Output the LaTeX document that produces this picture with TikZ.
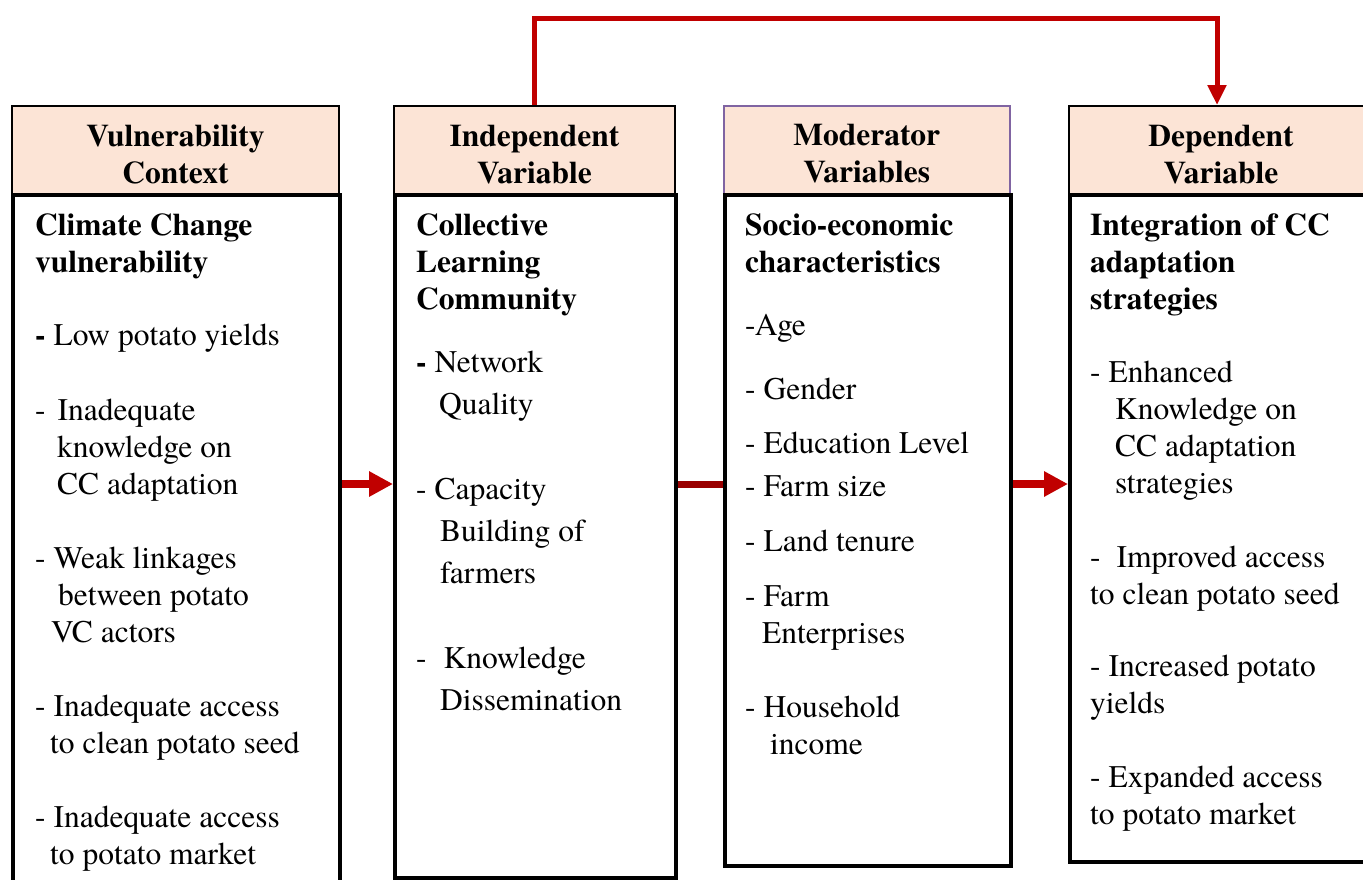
\documentclass[tikz,border=0pt]{standalone}
\usepackage{fontspec}
\setmainfont{texgyretermes}[Extension=.otf, UprightFont=*-regular, BoldFont=*-bold, ItalicFont=*-italic, BoldItalicFont=*-bolditalic]
\usetikzlibrary{arrows.meta}
\definecolor{hdrfill}{HTML}{FCE4D6}
\definecolor{arrred}{HTML}{C00000}
\definecolor{linkred}{HTML}{9A0000}
\definecolor{modpurple}{HTML}{8064A2}
\newcommand{\fsz}{\fontsize{31.5}{37}\selectfont}
\newcommand{\fszw}{\fontsize{31.5}{42}\selectfont}
\newcommand{\stt}{\rule{0pt}{30pt}}
\begin{document}
\begin{tikzpicture}[x=1pt,y=-1pt,
  hdr/.style={draw=black, line width=2pt, fill=hdrfill, anchor=north west, align=center, inner sep=0pt, font=\fsz\bfseries},
  bodybox/.style={draw=black, line width=4pt, anchor=north west, inner sep=0pt},
  txt/.style={anchor=north west, inner sep=0pt, align=left, font=\fsz},
  txtb/.style={txt, font=\fsz\bfseries},
  txtw/.style={txt, font=\fszw},
  fatarrow/.style={arrred, line width=8pt, -{Triangle[length=24pt,width=24pt]}},
  link/.style={linkred, line width=7pt},
  loop/.style={arrred, line width=5pt, -{Triangle[length=20pt,width=18pt]}}]
\useasboundingbox (0,0) rectangle (1363,879);
\clip (0,0) rectangle (1363,879);
\fill[white] (0,0) rectangle (1363,879);

% headers
\node[hdr, minimum width=327pt, minimum height=88pt] (h1) at (11,105) {\stt Vulnerability\\Context};
\node[hdr, minimum width=281pt, minimum height=88pt] (h2) at (393,105) {\stt Independent\\Variable};
\node[hdr, draw=modpurple, line width=1.5pt, minimum width=286pt, minimum height=88pt] (h3) at (723,105) {\stt Moderator\\Variables};
\node[hdr, minimum width=304pt, minimum height=88pt] (h4) at (1068,105) {\stt Dependent\\Variable};

% bodies
\node[bodybox, minimum width=327pt, minimum height=720pt] (b1) at (11,193) {};
\node[bodybox, minimum width=281pt, minimum height=683pt] (b2) at (393,193) {};
\node[bodybox, minimum width=286pt, minimum height=671pt] (b3) at (723,193) {};
\node[bodybox, minimum width=304pt, minimum height=667pt] (b4) at (1068,193) {};

% column 1
\node[txtb] (t1a) at (35,205) {\stt Climate Change\\vulnerability};
\node[txt] (t1b) at (35,315) {\stt{\bfseries -} Low potato yields};
\node[txt] (t1c) at (35,390) {\stt-\hspace*{12pt}Inadequate\\\hspace*{22pt}knowledge on\\\hspace*{22pt}CC adaptation};
\node[txt] (t1d) at (35,538) {\stt- Weak linkages\\\hspace*{23pt}between potato\\\hspace*{16pt}VC actors};
\node[txt] (t1e) at (35,686) {\stt- Inadequate access\\\hspace*{15pt}to clean potato seed};
\node[txt] (t1f) at (35,797) {\stt- Inadequate access\\\hspace*{15pt}to potato market};

% column 2
\node[txtb] (t2a) at (416,205) {\stt Collective\\Learning\\Community};
\node[txtw] (t2b) at (416,342) {\stt{\bfseries -} Network\\\hspace*{23pt}Quality};
\node[txtw] (t2c) at (416,469) {\stt- Capacity\\\hspace*{24pt}Building of\\\hspace*{24pt}farmers};
\node[txtw] (t2d) at (416,638) {\stt-\hspace*{17pt}Knowledge\\\hspace*{24pt}Dissemination};

% column 3
\node[txtb] (t3a) at (745,205) {\stt Socio-economic\\characteristics};
\node[txt] (t3b) at (745,305) {\stt-Age};
\node[txt] (t3c) at (745,369) {\stt- Gender};
\node[txt] (t3d) at (745,423) {\stt- Education Level};
\node[txt] (t3e) at (745,466) {\stt- Farm size};
\node[txt] (t3f) at (745,521) {\stt- Land tenure};
\node[txt] (t3g) at (745,576) {\stt- Farm\\\hspace*{17pt}Enterprises};
\node[txt] (t3h) at (745,687) {\stt- Household\\\hspace*{25pt}income};

% column 4
\node[txtb] (t4a) at (1090,205) {\stt Integration of CC\\adaptation\\strategies};
\node[txt] (t4b) at (1090,352) {\stt- Enhanced\\\hspace*{25pt}Knowledge on\\\hspace*{25pt}CC adaptation\\\hspace*{25pt}strategies};
\node[txt] (t4c) at (1090,537) {\stt-\hspace*{16pt}Improved access\\to clean potato seed};
\node[txt] (t4d) at (1090,646) {\stt- Increased potato\\yields};
\node[txt] (t4e) at (1090,757) {\stt- Expanded access\\to potato market};

% connectors
\coordinate (midy) at (0,484);
\coordinate (topl) at (534,18);
\coordinate (topr) at (1217,18);
\draw[fatarrow] (b1.east |- midy) -- (b2.west |- midy);
\draw[link] (b2.east |- midy) -- (b3.west |- midy);
\draw[fatarrow] (b3.east |- midy) -- (b4.west |- midy);
\draw[loop] (h2.north -| topl) -- (topl) -- (topr) -- (topr |- h4.north);
\end{tikzpicture}
\end{document}
